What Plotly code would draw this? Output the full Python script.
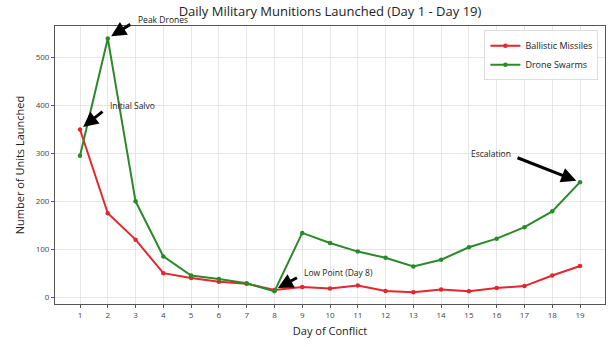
import plotly.graph_objects as go

days = list(range(1, 20))
ballistic = [350, 175, 120, 50, 40, 32, 28, 15, 21, 18, 24, 13, 10, 16, 12, 19, 23, 45, 65]
drones = [295, 540, 200, 85, 45, 38, 29, 12, 134, 113, 95, 82, 64, 78, 104, 122, 146, 179, 240]

series_names = ["Ballistic Missiles", "Drone Swarms"]
y_ticks = [0, 100, 200, 300, 400, 500]

# annotations: (label, target_x, target_y, text_x, text_y)
notes = [
    ("Peak Drones", 2, 540, 3, 580),
    ("Initial Salvo", 1, 350, 2, 400),
    ("Low Point (Day 8)", 8, 15, 9, 52),
    ("Escalation", 19, 240, 15, 300),
]
# arrow tail offsets in pixels relative to the target point
tails = [(24, -15), (24, -19), (24, -13), (-64, -25)]

FONT = "Open Sans"
RED = "#e5262c"
GREEN = "#2a8a2a"
Y_RANGE = [-14.4, 566]

fig = go.Figure()
fig.add_trace(go.Scatter(x=days, y=ballistic, name=series_names[0], mode="lines+markers",
                         line=dict(color=RED, width=2), marker=dict(size=4.5, color=RED)))
fig.add_trace(go.Scatter(x=days, y=drones, name=series_names[1], mode="lines+markers",
                         line=dict(color=GREEN, width=2), marker=dict(size=4.5, color=GREEN)))

anns = []
for (lab, tx, ty, sx, sy), (ax, ay) in zip(notes, tails):
    anns.append(dict(x=tx, y=ty, ax=ax, ay=ay, xref="x", yref="y", axref="pixel", ayref="pixel",
                     text="", showarrow=True, arrowhead=2, arrowsize=1.0, arrowwidth=3,
                     arrowcolor="black", standoff=4))
    if sy > Y_RANGE[1]:
        anns.append(dict(x=sx, y=(sy - Y_RANGE[0]) / (Y_RANGE[1] - Y_RANGE[0]), xref="x", yref="paper",
                         text=lab, showarrow=False, xanchor="left", yanchor="middle",
                         font=dict(size=8.5, color="#222", family=FONT)))
    else:
        anns.append(dict(x=sx, y=sy, xref="x", yref="y", text=lab, showarrow=False,
                         xanchor="left", yanchor="middle", font=dict(size=8.5, color="#222", family=FONT)))

fig.update_layout(
    width=612, height=347,
    margin=dict(l=55, r=7, t=26, b=43),
    paper_bgcolor="white", plot_bgcolor="white",
    font=dict(family=FONT, color="#222"),
    title=dict(text="Daily Military Munitions Launched (Day 1 - Day 19)", x=330/612, xanchor="center",
               y=0.968, yanchor="middle", font=dict(size=13, family=FONT, color="#222")),
    xaxis=dict(range=[0.1, 19.9], tickmode="array", tickvals=days, ticktext=[str(d) for d in days],
               tickfont=dict(size=8, color="#444"), ticks="outside", ticklen=3, tickcolor="#555",
               showgrid=True, gridcolor="#e6e6e6", gridwidth=1, zeroline=False,
               showline=True, linecolor="#555", linewidth=1, mirror=True,
               title=dict(text="Day of Conflict", font=dict(size=11, color="#222"), standoff=8)),
    yaxis=dict(range=Y_RANGE, tickvals=y_ticks, tickfont=dict(size=8, color="#444"),
               ticks="outside", ticklen=3, tickcolor="#555",
               showgrid=True, gridcolor="#e6e6e6", gridwidth=1, zeroline=False,
               showline=True, linecolor="#555", linewidth=1, mirror=True,
               title=dict(text="Number of Units Launched", font=dict(size=11, color="#222"), standoff=8)),
    legend=dict(x=0.988, y=0.985, xanchor="right", yanchor="top", bgcolor="rgba(255,255,255,0.85)",
                bordercolor="#ddd", borderwidth=1, font=dict(size=9, color="#222"),
                tracegroupgap=0, itemwidth=30),
    annotations=anns,
    showlegend=True,
)

fig.write_html("out.html")
